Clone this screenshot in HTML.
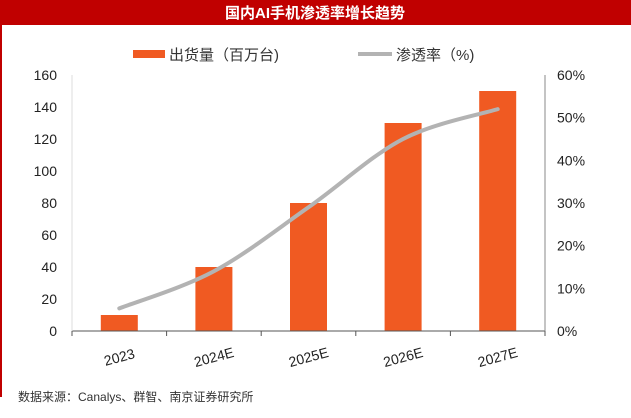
<!DOCTYPE html>
<html><head><meta charset="utf-8"><style>
body{margin:0;width:631px;height:418px;overflow:hidden;background:#fff;font-family:"Liberation Sans","Noto Sans CJK SC",sans-serif;}
</style></head><body>
<svg width="631" height="418" xmlns="http://www.w3.org/2000/svg" style="position:absolute;left:0;top:0" font-family="Liberation Sans, Noto Sans CJK SC, sans-serif">
<rect x="0" y="0" width="631" height="25" fill="#c00000"/>
<rect x="0" y="0" width="2" height="397" fill="#c00000"/>
<text x="315" y="18" fill="#fff" font-size="15" font-weight="bold" text-anchor="middle">国内AI手机渗透率增长趋势</text>
<g>
<rect x="133" y="50" width="32" height="8" fill="#f05a22"/>
<text x="169" y="60" font-size="15" fill="#333">出货量（百万台)</text>
<rect x="358" y="52" width="34" height="4" fill="#b3b3b3"/>
<text x="396" y="60" font-size="15" fill="#333">渗透率（%)</text>
</g>
<g id="chart"></g>
<text x="18" y="401" font-size="12" fill="#333">数据来源：Canalys、群智、南京证券研究所</text>
</svg>
<script>
const categories=["2023","2024E","2025E","2026E","2027E"];
const shipments=[10,40,80,130,150];
const penetration=[5.3,14,29,45,52];
const leftTicks=[0,20,40,60,80,100,120,140,160];
const rightTicks=[0,10,20,30,40,50,60];
const L=72,R=545,T=75,B=331;
const NS="http://www.w3.org/2000/svg";
const g=document.getElementById('chart');
const cw=(R-L)/categories.length;
const xC=i=>L+cw*(i+0.5);
const yL=v=>B-(v/160)*(B-T);
const yR=v=>B-(v/60)*(B-T);
function mk(t,a){const e=document.createElementNS(NS,t);for(const k in a)e.setAttribute(k,a[k]);g.appendChild(e);return e;}
shipments.forEach((v,i)=>{const r=mk('rect',{x:xC(i)-18.5,y:yL(v),width:37,height:B-yL(v),fill:'#f05a22'});

});
// axes
let a=mk('line',{x1:L,y1:B,x2:R,y2:B,stroke:'#555','stroke-width':1});


a=mk('line',{x1:L,y1:T,x2:L,y2:B,stroke:'#ddd','stroke-width':1});


a=mk('line',{x1:R,y1:T,x2:R,y2:B,stroke:'#888','stroke-width':1});


for(let i=0;i<=categories.length;i++){const t=mk('line',{x1:L+cw*i,y1:B,x2:L+cw*i,y2:B+5,stroke:'#555'});

}
leftTicks.forEach(v=>{const t=mk('text',{x:57,y:yL(v)+5,'font-size':14,'text-anchor':'end',fill:'#222'});t.textContent=v;

});
rightTicks.forEach(v=>{const t=mk('text',{x:557,y:yR(v)+5,'font-size':14,fill:'#222'});t.textContent=v+'%';

});
categories.forEach((c,i)=>{const t=mk('text',{x:xC(i),y:362,'font-size':14,'text-anchor':'middle',fill:'#222',transform:`rotate(-15 ${xC(i)} 357)`});t.textContent=c;

});
// smooth line
const P=penetration.map((v,i)=>[xC(i),yR(v)]);
let d=`M${P[0][0]},${P[0][1]}`;
for(let i=0;i<P.length-1;i++){const p0=P[Math.max(i-1,0)],p1=P[i],p2=P[i+1],p3=P[Math.min(i+2,P.length-1)];
d+=` C${p1[0]+(p2[0]-p0[0])/6},${p1[1]+(p2[1]-p0[1])/6} ${p2[0]-(p3[0]-p1[0])/6},${p2[1]-(p3[1]-p1[1])/6} ${p2[0]},${p2[1]}`;}
const ln=mk('path',{d:d,fill:'none',stroke:'#b3b3b3','stroke-width':4,'stroke-linecap':'round'});


</script>
</body></html>
